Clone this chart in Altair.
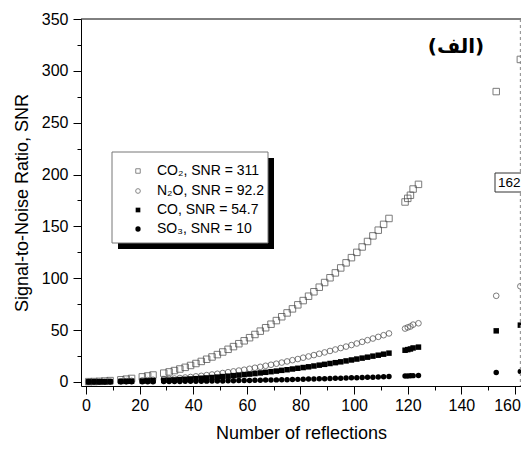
import altair as alt
import pandas as pd

# ---------------- data ----------------
N_VALUES = [1, 3, 5, 7, 9, 13, 15, 17, 21, 23, 25,
            29, 31, 33, 35, 37, 39, 41, 43, 45, 47, 49, 51, 53, 55, 57, 59, 61, 63, 65,
            67, 69, 71, 73, 75, 77, 79, 81, 83, 85, 87, 89, 91, 93, 95, 97, 99, 101, 103, 105,
            107, 109, 111, 113,
            119, 120, 121, 122, 124,
            153, 162]

CO2_SNR = [0.2, 0.3, 0.5, 0.8, 1.2, 2.0, 2.6, 3.3, 4.8, 5.7, 6.6,
           8.4, 9.6, 10.9, 12.4, 14.0, 15.8, 17.7, 19.7, 21.8, 24.0, 26.3, 28.8, 31.4, 34.0, 36.8,
           39.6, 42.6, 45.7, 48.9, 52.2, 55.6, 59.1, 62.8, 66.5, 70.4, 74.3, 78.4, 82.6, 86.9, 91.3,
           95.8, 100.4, 105.1, 109.9, 114.8, 119.8, 124.9, 130.1, 135.4,
           140.8, 146.3, 151.9, 157.6,
           173.5, 177.0, 180.0, 186.0, 190.5,
           280.0, 311.0]

N2O_SNR = [0.1, 0.1, 0.2, 0.2, 0.4, 0.6, 0.8, 1.0, 1.4, 1.7, 2.0,
           2.5, 2.9, 3.2, 3.7, 4.2, 4.7, 5.3, 5.8, 6.5, 7.1, 7.8, 8.5, 9.3, 10.1, 10.9,
           11.7, 12.6, 13.6, 14.5, 15.5, 16.5, 17.5, 18.6, 19.7, 20.9, 22.0, 23.3, 24.5, 25.8, 27.1,
           28.4, 29.8, 31.2, 32.6, 34.0, 35.5, 37.0, 38.6, 40.2,
           41.8, 43.4, 45.0, 46.7,
           51.4, 52.5, 53.4, 55.2, 56.5,
           83.0, 92.2]

CO_SNR = [0.0, 0.1, 0.1, 0.1, 0.2, 0.4, 0.5, 0.6, 0.8, 1.0, 1.2,
          1.5, 1.7, 1.9, 2.2, 2.5, 2.8, 3.1, 3.5, 3.8, 4.2, 4.6, 5.1, 5.5, 6.0, 6.5,
          7.0, 7.5, 8.0, 8.6, 9.2, 9.8, 10.4, 11.1, 11.7, 12.4, 13.1, 13.8, 14.5, 15.3, 16.1,
          16.9, 17.7, 18.5, 19.3, 20.2, 21.1, 22.0, 22.9, 23.8,
          24.8, 25.7, 26.7, 27.7,
          30.5, 31.1, 31.7, 32.7, 33.5,
          49.2, 54.7]

SO3_SNR = [0.0, 0.0, 0.0, 0.0, 0.0, 0.1, 0.1, 0.1, 0.2, 0.2, 0.2,
           0.3, 0.3, 0.4, 0.4, 0.5, 0.5, 0.6, 0.6, 0.7, 0.8, 0.9, 0.9, 1.0, 1.1, 1.2,
           1.3, 1.4, 1.5, 1.6, 1.7, 1.8, 1.9, 2.0, 2.1, 2.3, 2.4, 2.5, 2.7, 2.8, 2.9,
           3.1, 3.2, 3.4, 3.5, 3.7, 3.9, 4.0, 4.2, 4.4,
           4.5, 4.7, 4.9, 5.1,
           5.6, 5.7, 5.8, 6.0, 6.1,
           9.0, 10.0]

GASES = ["CO2", "N2O", "CO", "SO3"]
LEGEND_LABELS = ["CO\u2082, SNR = 311", "N\u2082O, SNR = 92.2", "CO, SNR = 54.7", "SO\u2083, SNR = 10"]
MARKED_N = [162]
MARKED_LABEL = ["162"]
PANEL_LABEL = ["(الف)"]
X_TICK_VALUES = [0, 10, 20, 30, 40, 50, 60, 70, 80, 90, 100, 110, 120, 130, 140, 150, 160]
Y_TICK_VALUES = [0, 25, 50, 75, 100, 125, 150, 175, 200, 225, 250, 275, 300, 325, 350]

# ---------------- layout ----------------
W, H = 440, 367
FONT = "Liberation Sans"

series = {"CO2": CO2_SNR, "N2O": N2O_SNR, "CO": CO_SNR, "SO3": SO3_SNR}
df = pd.concat([pd.DataFrame({"N": N_VALUES, "SNR": v, "gas": g}) for g, v in series.items()],
               ignore_index=True)

xs = alt.Scale(domain=[-1.865, 162.24], nice=False, zero=False)
ys = alt.Scale(domain=[-4, 350], nice=False, zero=False)

x_axis = alt.Axis(values=X_TICK_VALUES, labelExpr="datum.value % 20 === 0 ? datum.label : ''",
                  tickSize={"condition": {"test": "datum.value % 20 === 0", "value": 8}, "value": 4},
                  labelOffset={"condition": {"test": "datum.value === 160", "value": -8}, "value": 0},
                  title="Number of reflections", titlePadding=11, labelPadding=3,
                  grid=False, labelFlush=False, labelOverlap=False)
y_axis = alt.Axis(values=Y_TICK_VALUES, labelExpr="datum.value % 50 === 0 ? datum.label : ''",
                  tickSize={"condition": {"test": "datum.value % 50 === 0", "value": 8}, "value": 4},
                  title="Signal-to-Noise Ratio, SNR", titlePadding=10, labelPadding=5,
                  grid=False, labelFlush=False, labelOverlap=False)

x_enc = alt.X("N:Q", scale=xs, axis=x_axis)
y_enc = alt.Y("SNR:Q", scale=ys, axis=y_axis)

base = alt.Chart(df)

styles = {
    "CO2": dict(shape="square", filled=False, size=42, stroke="#444444", strokeWidth=1),
    "N2O": dict(shape="circle", filled=False, size=32, stroke="#444444", strokeWidth=1),
    "CO": dict(shape="square", filled=True, size=30, color="black", opacity=1),
    "SO3": dict(shape="circle", filled=True, size=30, color="black", opacity=1),
}

layers = []
for g in GASES:
    layers.append(
        base.transform_filter(alt.datum.gas == g).mark_point(**styles[g]).encode(x=x_enc, y=y_enc)
    )

# top frame line
top_line = alt.Chart(pd.DataFrame({"a": [0]})).mark_rule(color="black", strokeWidth=1).encode(
    x=alt.value(0), x2=alt.value(W), y=alt.value(0))

# dashed marker line at N = 162
mark_line = alt.Chart(pd.DataFrame({"N": MARKED_N})).mark_rule(
    color="#888888", strokeDash=[3, 3], strokeWidth=1).encode(x=x_enc)

mark_box = alt.Chart(pd.DataFrame({"a": [0]})).mark_rect(
    fill="white", stroke="#333333", strokeWidth=1).encode(
    x=alt.value(414), x2=alt.value(446), y=alt.value(154), y2=alt.value(173))
mark_text = alt.Chart(pd.DataFrame({"t": MARKED_LABEL})).mark_text(
    align="left", baseline="middle", font=FONT, fontSize=13.5, color="black").encode(
    x=alt.value(417), y=alt.value(164), text="t:N")

panel = alt.Chart(pd.DataFrame({"t": PANEL_LABEL})).mark_text(
    align="center", baseline="middle", font="DejaVu Sans", fontSize=20, fontWeight="bold",
    color="black").encode(x=alt.value(375), y=alt.value(28), text="t:N")

# legend
shadow = alt.Chart(pd.DataFrame({"a": [0]})).mark_rect(fill="black").encode(
    x=alt.value(37), x2=alt.value(193), y=alt.value(139), y2=alt.value(230))
box = alt.Chart(pd.DataFrame({"a": [0]})).mark_rect(fill="white", stroke="#777777", strokeWidth=1).encode(
    x=alt.value(31), x2=alt.value(187), y=alt.value(133), y2=alt.value(224))

legend_styles = {
    "CO2": dict(shape="square", filled=False, size=20, stroke="#555555", strokeWidth=1),
    "N2O": dict(shape="circle", filled=False, size=22, stroke="#555555", strokeWidth=1),
    "CO": dict(shape="square", filled=True, size=22, color="black", opacity=1),
    "SO3": dict(shape="circle", filled=True, size=28, color="black", opacity=1),
}
row_y = [152, 172, 191, 210]
legend_layers = []
for g, lab, yy in zip(GASES, LEGEND_LABELS, row_y):
    d = pd.DataFrame({"t": [lab]})
    legend_layers.append(alt.Chart(d).mark_point(**legend_styles[g]).encode(
        x=alt.value(57), y=alt.value(yy)))
    legend_layers.append(alt.Chart(d).mark_text(
        align="left", baseline="middle", font=FONT, fontSize=14, color="black").encode(
        x=alt.value(76), y=alt.value(yy), text="t:N"))

chart = alt.layer(
    *layers, top_line, mark_line, mark_box, mark_text, panel, shadow, box, *legend_layers
).properties(
    width=W, height=H,
    padding={"left": 73, "top": 11, "right": 0, "bottom": 56},
    autosize=alt.AutoSizeParams(type="none"),
    background="white",
).configure_view(stroke=None).configure_axis(
    domainColor="black", domainWidth=1, tickColor="black", tickWidth=1,
    labelColor="black", labelFont=FONT, labelFontSize=16,
    titleColor="black", titleFont=FONT, titleFontSize=18, titleFontWeight="normal",
)

chart.save("out.html", embed_options={"renderer": "svg", "actions": False})
